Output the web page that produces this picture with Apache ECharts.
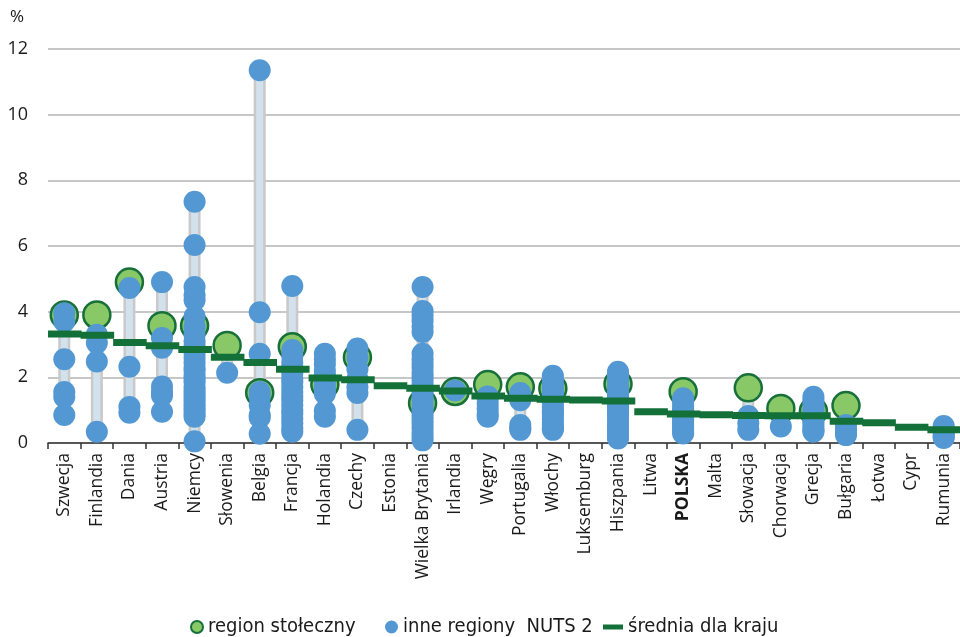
<!DOCTYPE html>
<html><head><meta charset="utf-8">
<script src="https://cdn.jsdelivr.net/npm/echarts@6/dist/echarts.min.js"></script>
<style>html,body{margin:0;padding:0;background:#fff}#c{width:960px;height:637px}</style>
</head><body><div id="c"></div>
<script>
const countries = ['Szwecja','Finlandia','Dania','Austria','Niemcy','Słowenia','Belgia','Francja','Holandia','Czechy','Estonia','Wielka Brytania','Irlandia','Węgry','Portugalia','Włochy','Luksemburg','Hiszpania','Litwa','POLSKA','Malta','Słowacja','Chorwacja','Grecja','Bułgaria','Łotwa','Cypr','Rumunia'];
const yTicks = [0, 2, 4, 6, 8, 10, 12];
const capitalRegion = [3.9, 3.9, 4.9, 3.57, 3.57, 2.97, 1.53, 2.93, 1.78, 2.61, null, 1.21, 1.57, 1.78, 1.71, 1.66, null, 1.8, null, 1.56, null, 1.68, 1.05, 0.97, 1.14, null, null, null];
const countryAverage = [3.32, 3.28, 3.06, 2.96, 2.85, 2.61, 2.45, 2.25, 1.98, 1.93, 1.74, 1.67, 1.58, 1.43, 1.36, 1.33, 1.31, 1.28, 0.95, 0.88, 0.86, 0.84, 0.83, 0.83, 0.66, 0.62, 0.48, 0.40];
const otherRegions = [
  [3.95, 3.7, 2.55, 1.55, 1.4, 0.85],
  [3.3, 3.05, 2.48, 0.34],
  [4.72, 2.32, 1.1, 0.92],
  [4.9, 3.2, 2.9, 1.72, 1.55, 1.45, 0.95],
  [7.35, 6.03, 4.75, 4.5, 4.35, 3.85, 3.55, 3.3, 3.1, 2.95, 2.75, 2.6, 2.45, 2.3, 2.2, 2.05, 1.95, 1.85, 1.7, 1.6, 1.5, 1.4, 1.3, 1.2, 1.1, 1.0, 0.9, 0.8, 0.05],
  [2.14],
  [11.35, 3.98, 2.72, 1.55, 1.42, 1.15, 0.85, 0.78, 0.28],
  [4.78, 2.83, 2.65, 2.45, 2.3, 2.12, 1.95, 1.85, 1.7, 1.55, 1.42, 1.3, 1.15, 1.0, 0.9, 0.75, 0.6, 0.45, 0.34],
  [2.72, 2.55, 2.4, 2.2, 2.05, 1.9, 1.75, 1.62, 1.5, 0.98, 0.8],
  [2.88, 2.6, 2.25, 1.95, 1.7, 1.52, 0.4],
  [],
  [4.75, 4.02, 3.88, 3.72, 3.55, 3.38, 2.72, 2.55, 2.42, 2.3, 2.15, 2.02, 1.9, 1.78, 1.65, 1.55, 1.42, 1.3, 1.18, 1.05, 0.95, 0.82, 0.7, 0.58, 0.45, 0.32, 0.2, 0.08],
  [1.6],
  [1.42, 1.35, 1.2, 1.05, 0.9, 0.8],
  [1.52, 1.4, 1.3, 0.55, 0.45, 0.4],
  [2.05, 1.95, 1.82, 1.7, 1.6, 1.5, 1.42, 1.32, 1.2, 1.1, 1.0, 0.92, 0.82, 0.72, 0.62, 0.52, 0.45, 0.4],
  [],
  [2.17, 2.05, 1.9, 1.75, 1.6, 1.5, 1.4, 1.3, 1.2, 1.1, 1.0, 0.88, 0.75, 0.62, 0.5, 0.38, 0.25, 0.14],
  [],
  [1.36, 1.25, 1.15, 1.05, 0.97, 0.88, 0.8, 0.72, 0.65, 0.58, 0.5, 0.42, 0.35, 0.29],
  [],
  [0.82, 0.6, 0.4],
  [0.5],
  [1.41, 1.3, 1.18, 1.05, 0.95, 0.85, 0.75, 0.65, 0.55, 0.45, 0.38, 0.34],
  [0.55, 0.45, 0.38, 0.3, 0.24],
  [],
  [],
  [0.52, 0.42, 0.33, 0.25, 0.2, 0.15]
];

const rangeData = countries.map((c, i) => {
  const vals = otherRegions[i].slice();
  if (capitalRegion[i] != null) vals.push(capitalRegion[i]);
  if (vals.length < 2) return [i, null, null];
  return [i, Math.min(...vals), Math.max(...vals)];
});
const otherData = [];
otherRegions.forEach((arr, i) => arr.forEach(v => otherData.push([i, v])));
const capitalData = capitalRegion.map((v, i) => [i, v]).filter(d => d[1] != null);
const avgData = countryAverage.map((v, i) => [i, v]);

const chart = echarts.init(document.getElementById('c'));
const FONT = '"Open Sans", "Noto Sans", sans-serif';
const LFONT = '"Liberation Sans Narrow", "DejaVu Sans Condensed", sans-serif';
const legendText = {fontFamily: LFONT, fontSize: 20, color: '#1a1a1a'};
chart.setOption({
  animation: false,
  grid: {left: 48, right: 0, top: 49, bottom: 194},
  graphic: [{type: 'text', left: 10, top: 9, style: {text: '%', fontSize: 17, fontFamily: FONT, fill: '#1a1a1a'}}],
  legend: [
    {data: ['region stołeczny'], left: 185, top: 612, itemWidth: 12, itemHeight: 12, textStyle: legendText, icon: 'circle'},
    {data: ['inne regiony  NUTS 2'], left: 380, top: 612, itemWidth: 13, itemHeight: 13, textStyle: legendText, icon: 'circle'},
    {data: ['średnia dla kraju'], left: 598, top: 612, itemWidth: 20, itemHeight: 5, textStyle: legendText, icon: 'rect'}
  ],
  xAxis: {
    type: 'category', data: countries,
    axisLine: {lineStyle: {color: '#333', width: 1.5}},
    axisTick: {show: true, length: 6, lineStyle: {color: '#333', width: 1.5}},
    axisLabel: {
      rotate: 90, margin: 10, fontSize: 17.5, fontFamily: FONT, color: '#1a1a1a', interval: 0,
      formatter: v => v === 'POLSKA' ? '{b|' + v + '}' : v,
      rich: {b: {fontWeight: 'bold', fontSize: 17.5, fontFamily: FONT, color: '#1a1a1a'}}
    }
  },
  yAxis: {
    type: 'value', min: yTicks[0], max: yTicks[yTicks.length - 1], interval: 2,
    axisLine: {show: false}, axisTick: {show: false},
    axisLabel: {margin: 20, fontSize: 18, fontFamily: FONT, color: '#1a1a1a'},
    splitLine: {lineStyle: {color: '#b4b4b4', width: 1.5}}
  },
  series: [
    {
      type: 'custom', name: 'range', z: 1, silent: true,
      data: rangeData,
      renderItem: (params, api) => {
        if (api.value(1) == null || isNaN(api.value(1))) return;
        const lo = api.coord([api.value(0), api.value(1)]);
        const hi = api.coord([api.value(0), api.value(2)]);
        const w = 12;
        return {type: 'group', children: [
          {type: 'rect', shape: {x: lo[0] - w / 2, y: hi[1], width: w, height: lo[1] - hi[1]}, style: {fill: '#c9c9c9'}},
          {type: 'rect', shape: {x: lo[0] - w / 2 + 2.5, y: hi[1], width: w - 5, height: lo[1] - hi[1]}, style: {fill: '#d3e1ed'}}
        ]};
      },
      encode: {x: 0, y: [1, 2]}
    },
    {
      type: 'scatter', name: 'region stołeczny', z: 2, data: capitalData, symbolSize: 27,
      itemStyle: {color: '#88c866', borderColor: '#17703a', borderWidth: 2.5, opacity: 1}
    },
    {
      type: 'scatter', name: 'inne regiony  NUTS 2', z: 3, data: otherData, symbolSize: 22,
      itemStyle: {color: '#5398d3', opacity: 1}
    },
    {
      type: 'custom', name: 'średnia dla kraju', z: 4, data: avgData,
      itemStyle: {color: '#137038'},
      renderItem: (params, api) => {
        const p = api.coord([api.value(0), api.value(1)]);
        const bw = api.size([1, 0])[0];
        return {type: 'rect', shape: {x: p[0] - bw / 2, y: p[1] - 3.5, width: bw + 1, height: 7}, style: {fill: '#137038'}};
      },
      encode: {x: 0, y: 1}
    }
  ]
});
</script></body></html>
